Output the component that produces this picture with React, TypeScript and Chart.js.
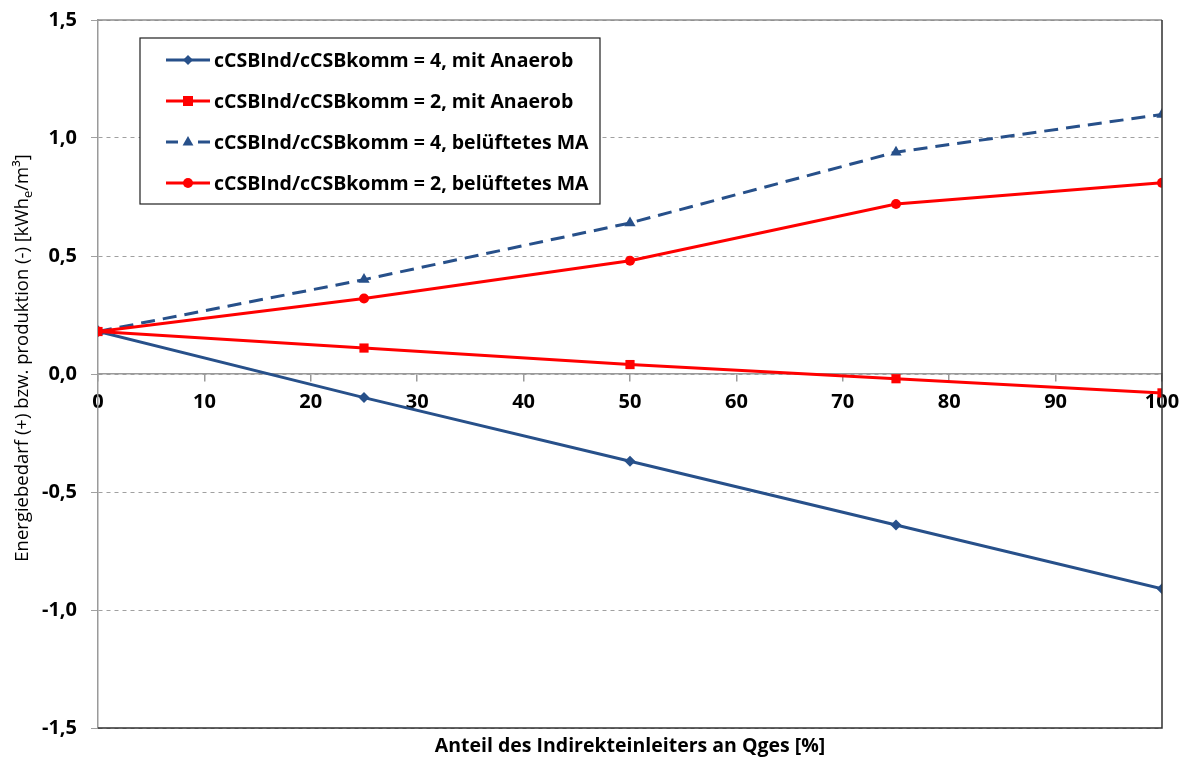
import React, { useEffect, useRef } from 'react';
import { Chart, registerables } from 'chart.js';

Chart.register(...registerables);

const xValues = [0, 25, 50, 75, 100];
const anaerob4 = [0.18, -0.1, -0.37, -0.64, -0.91];
const anaerob2 = [0.18, 0.11, 0.04, -0.02, -0.08];
const belueftet4 = [0.18, 0.4, 0.64, 0.94, 1.1];
const belueftet2 = [0.18, 0.32, 0.48, 0.72, 0.81];

const seriesLabels = [
  'cCSBInd/cCSBkomm = 4, mit Anaerob',
  'cCSBInd/cCSBkomm = 2, mit Anaerob',
  'cCSBInd/cCSBkomm = 4, belüftetes MA',
  'cCSBInd/cCSBkomm = 2, belüftetes MA',
];

const xTitle = 'Anteil des Indirekteinleiters an Qges [%]';
const yTitleMain = 'Energiebedarf (+) bzw. produktion (-) [kWh';
const yTitleSub = 'e';
const yTitleEnd = '/m³]';

const BLUE = '#27508A';
const RED = '#FF0000';
const FONT = '"Open Sans", "DejaVu Sans", sans-serif';

function toPoints(ys: number[]) {
  return xValues.map((x, i) => ({ x, y: ys[i] }));
}

function drawMarker(ctx: CanvasRenderingContext2D, style: string, x: number, y: number, color: string) {
  ctx.save();
  ctx.fillStyle = color;
  ctx.setLineDash([]);
  ctx.beginPath();
  if (style === 'rectRot') {
    const r = 5;
    ctx.moveTo(x, y - r);
    ctx.lineTo(x + r, y);
    ctx.lineTo(x, y + r);
    ctx.lineTo(x - r, y);
    ctx.closePath();
  } else if (style === 'rect') {
    const r = 5;
    ctx.rect(x - r, y - r, 2 * r, 2 * r);
  } else if (style === 'triangle') {
    const r = 6;
    ctx.moveTo(x, y - r);
    ctx.lineTo(x + r * 0.9, y + r * 0.6);
    ctx.lineTo(x - r * 0.9, y + r * 0.6);
    ctx.closePath();
  } else {
    ctx.arc(x, y, 5, 0, Math.PI * 2);
  }
  ctx.fill();
  ctx.restore();
}

const decorPlugin = {
  id: 'decor',
  afterDraw(chart: any) {
    const ctx: CanvasRenderingContext2D = chart.ctx;
    const { left, right, top, bottom } = chart.chartArea;
    ctx.save();
    // plot frame
    ctx.lineWidth = 1.5;
    ctx.strokeStyle = '#8c8c8c';
    ctx.beginPath();
    ctx.moveTo(left, top);
    ctx.lineTo(right, top);
    ctx.stroke();
    ctx.strokeStyle = '#303030';
    ctx.beginPath();
    ctx.moveTo(right, top);
    ctx.lineTo(right, bottom);
    ctx.lineTo(left, bottom);
    ctx.stroke();

    // legend box
    const bx = 140, by = 38, bw = 460, bh = 166;
    ctx.fillStyle = '#ffffff';
    ctx.fillRect(bx, by, bw, bh);
    ctx.lineWidth = 1.2;
    ctx.strokeStyle = '#202020';
    ctx.strokeRect(bx, by, bw, bh);
    ctx.font = `bold 19.5px ${FONT}`;
    ctx.textBaseline = 'middle';
    ctx.textAlign = 'left';
    chart.data.datasets.forEach((ds: any, i: number) => {
      const cy = by + 22 + i * 41;
      ctx.save();
      ctx.strokeStyle = ds.borderColor;
      ctx.lineWidth = 3;
      ctx.beginPath();
      if (ds.borderDash && ds.borderDash.length) {
        ctx.moveTo(166, cy);
        ctx.lineTo(178, cy);
        ctx.moveTo(198, cy);
        ctx.lineTo(210, cy);
      } else {
        ctx.moveTo(166, cy);
        ctx.lineTo(210, cy);
      }
      ctx.stroke();
      ctx.restore();
      drawMarker(ctx, ds.pointStyle, 188, cy, ds.borderColor);
      ctx.fillStyle = '#000000';
      ctx.fillText(ds.label, 214, cy + 1);
    });

    // x title
    ctx.font = `bold 19.5px ${FONT}`;
    ctx.textAlign = 'center';
    ctx.textBaseline = 'middle';
    ctx.fillStyle = '#000000';
    ctx.fillText(xTitle, 630, 746);

    // y title (rotated, with subscript)
    ctx.save();
    ctx.translate(23, 358);
    ctx.rotate(-Math.PI / 2);
    const mainFont = `18.5px ${FONT}`;
    const subFont = `13px ${FONT}`;
    ctx.font = mainFont;
    const w1 = ctx.measureText(yTitleMain).width;
    const w3 = ctx.measureText(yTitleEnd).width;
    ctx.font = subFont;
    const w2 = ctx.measureText(yTitleSub).width;
    const total = w1 + w2 + w3;
    let px = -total / 2;
    ctx.textAlign = 'left';
    ctx.textBaseline = 'middle';
    ctx.fillStyle = '#000000';
    ctx.font = mainFont;
    ctx.fillText(yTitleMain, px, 0);
    px += w1;
    ctx.font = subFont;
    ctx.fillText(yTitleSub, px, 5);
    px += w2;
    ctx.font = mainFont;
    ctx.fillText(yTitleEnd, px, 0);
    ctx.restore();

    ctx.restore();
  },
};

export default function App() {
  const canvasRef = useRef<HTMLCanvasElement>(null);

  useEffect(() => {
    document.body.style.margin = '0';
    const canvas = canvasRef.current;
    if (!canvas) return;
    const chart = new Chart(canvas, {
      type: 'line',
      data: {
        datasets: [
          {
            label: seriesLabels[0],
            data: toPoints(anaerob4),
            borderColor: BLUE,
            backgroundColor: BLUE,
            borderWidth: 3,
            pointStyle: 'rectRot',
            pointRadius: 5.5,
            pointBorderWidth: 0,
            order: 4,
          },
          {
            label: seriesLabels[1],
            data: toPoints(anaerob2),
            borderColor: RED,
            backgroundColor: RED,
            borderWidth: 3,
            pointStyle: 'rect',
            pointRadius: 6.5,
            pointBorderWidth: 0,
            order: 3,
          },
          {
            label: seriesLabels[2],
            data: toPoints(belueftet4),
            borderColor: BLUE,
            backgroundColor: BLUE,
            borderWidth: 3,
            borderDash: [14, 8],
            pointStyle: 'triangle',
            pointRadius: 6.5,
            pointBorderWidth: 0,
            order: 2,
          },
          {
            label: seriesLabels[3],
            data: toPoints(belueftet2),
            borderColor: RED,
            backgroundColor: RED,
            borderWidth: 3,
            pointStyle: 'circle',
            pointRadius: 5,
            pointBorderWidth: 0,
            order: 1,
          },
        ],
      },
      options: {
        animation: false,
        responsive: false,
        maintainAspectRatio: false,
        layout: { padding: { left: 0, right: 24, top: 20, bottom: 30 } },
        plugins: {
          legend: { display: false },
          tooltip: { enabled: false },
        },
        scales: {
          x: {
            type: 'linear',
            min: 0,
            max: 100,
            position: { y: 0 },
            afterFit: (scale: any) => {
              scale.height = 0;
              scale.paddingLeft = 0;
              scale.paddingRight = 0;
            },
            ticks: {
              stepSize: 10,
              color: '#000000',
              font: { family: FONT, size: 20, weight: 'bold' },
              padding: 9,
              maxRotation: 0,
            },
            grid: {
              drawOnChartArea: false,
              drawTicks: true,
              tickLength: 7,
              color: '#9a9a9a',
              lineWidth: 1.5,
            },
            border: { display: true, color: '#9a9a9a', width: 1.5 },
          },
          y: {
            type: 'linear',
            min: -1.5,
            max: 1.5,
            position: 'left',
            afterFit: (scale: any) => {
              scale.width = 98;
              scale.paddingTop = 0;
              scale.paddingBottom = 0;
            },
            ticks: {
              stepSize: 0.5,
              color: '#000000',
              font: { family: FONT, size: 20, weight: 'bold' },
              padding: 14,
              callback: (v: any) => Number(v).toFixed(1).replace('.', ','),
            },
            grid: {
              drawOnChartArea: true,
              drawTicks: true,
              tickLength: 7,
              color: '#a0a0a0',
              lineWidth: 1,
              tickBorderDash: [],
            },
            border: { display: true, color: '#9a9a9a', width: 1.5, dash: [4, 4] },
          },
        },
      },
      plugins: [decorPlugin],
    });
    return () => chart.destroy();
  }, []);

  return (
    <div style={{ width: 1186, height: 758 }}>
      <canvas ref={canvasRef} width={1186} height={758} style={{ width: 1186, height: 758 }} />
    </div>
  );
}
